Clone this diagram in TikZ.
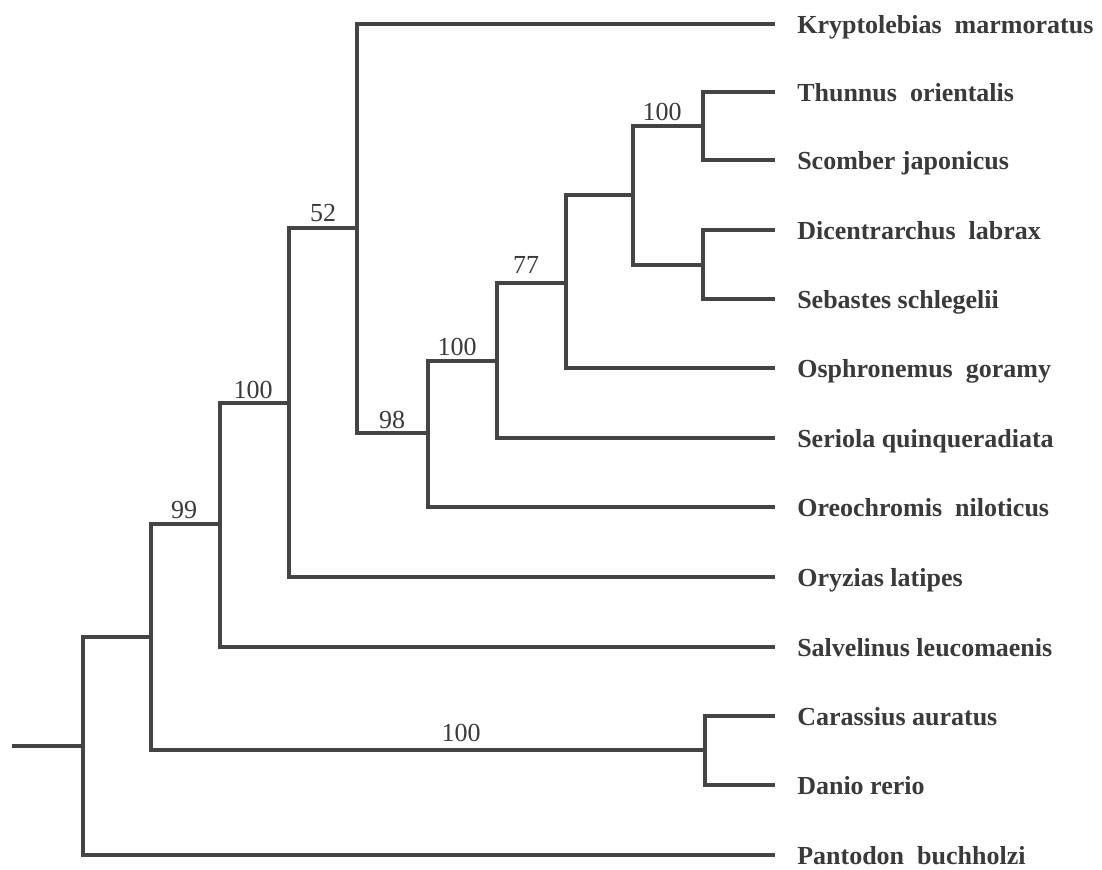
\documentclass[tikz,border=0pt]{standalone}
\usepackage{fontspec}
\setmainfont{Liberation Serif}
\definecolor{br}{RGB}{68,68,68}
\definecolor{tx}{RGB}{58,58,58}
\tikzset{
  branch/.style={draw=br,line width=3pt},
  taxon/.style={anchor=base west,inner sep=0pt,text=tx,font=\fontsize{19.5}{22}\selectfont\bfseries},
  boot/.style={anchor=base,inner sep=0pt,text=tx,font=\fontsize{19.5}{22}\selectfont}
}
\begin{document}
\begin{tikzpicture}[x=0.75pt,y=-0.75pt]
\useasboundingbox[fill=white] (0,0) rectangle (1102,869);
% leaf ends
\coordinate (eK) at (775,24);
\coordinate (eT) at (775,92);
\coordinate (eSc) at (775,160);
\coordinate (eD) at (775,230);
\coordinate (eSe) at (775,299);
\coordinate (eO) at (775,368);
\coordinate (eSer) at (775,438);
\coordinate (eOr) at (775,507);
\coordinate (eOy) at (775,577);
\coordinate (eSa) at (775,647);
\coordinate (eC) at (775,716);
\coordinate (eDa) at (775,785);
\coordinate (eP) at (775,855);
% internal nodes
\coordinate (n1) at (703,126);
\coordinate (n2) at (703,265);
\coordinate (n3) at (633,195);
\coordinate (n4) at (566,283);
\coordinate (n5) at (497,361);
\coordinate (n6) at (428,433);
\coordinate (n7) at (357,228);
\coordinate (n8) at (289,403);
\coordinate (n9) at (220,524);
\coordinate (n10) at (705,750);
\coordinate (n11) at (151,637);
\coordinate (n12) at (83,746);
\coordinate (root) at (12,746);
% branches
\draw[branch] (eT) -| (n1) |- (eSc);
\draw[branch] (eD) -| (n2) |- (eSe);
\draw[branch] (n1) -| (n3) |- (n2);
\draw[branch] (n3) -| (n4) |- (eO);
\draw[branch] (n4) -| (n5) |- (eSer);
\draw[branch] (n5) -| (n6) |- (eOr);
\draw[branch] (eK) -| (n7) |- (n6);
\draw[branch] (n7) -| (n8) |- (eOy);
\draw[branch] (n8) -| (n9) |- (eSa);
\draw[branch] (eC) -| (n10) |- (eDa);
\draw[branch] (n9) -| (n11) |- (n10);
\draw[branch] (n11) -| (n12) |- (eP);
\draw[branch] (root) -- (n12);
% taxa
\node[taxon] (tK) at (797,33) {Kryptolebias\ \ marmoratus};
\node[taxon] (tT) at (797,101) {Thunnus\ \ orientalis};
\node[taxon] (tSc) at (797,169) {Scomber japonicus};
\node[taxon] (tD) at (797,239) {Dicentrarchus\ \ labrax};
\node[taxon] (tSe) at (797,308) {Sebastes schlegelii};
\node[taxon] (tO) at (797,377) {Osphronemus\ \ goramy};
\node[taxon] (tSer) at (797,447) {Seriola quinqueradiata};
\node[taxon] (tOr) at (797,516) {Oreochromis\ \ niloticus};
\node[taxon] (tOy) at (797,586) {Oryzias latipes};
\node[taxon] (tSa) at (797,656) {Salvelinus leucomaenis};
\node[taxon] (tC) at (797,725) {Carassius auratus};
\node[taxon] (tDa) at (797,794) {Danio rerio};
\node[taxon] (tP) at (797,864) {Pantodon\ \ buchholzi};
% bootstrap values
\node[boot] (b1) at (662,120) {100};
\node[boot] (b4) at (526,273) {77};
\node[boot] (b5) at (457,355) {100};
\node[boot] (b6) at (392,428) {98};
\node[boot] (b7) at (323,221) {52};
\node[boot] (b8) at (253,398) {100};
\node[boot] (b9) at (184,518) {99};
\node[boot] (b10) at (461,741) {100};
\end{tikzpicture}
\end{document}
